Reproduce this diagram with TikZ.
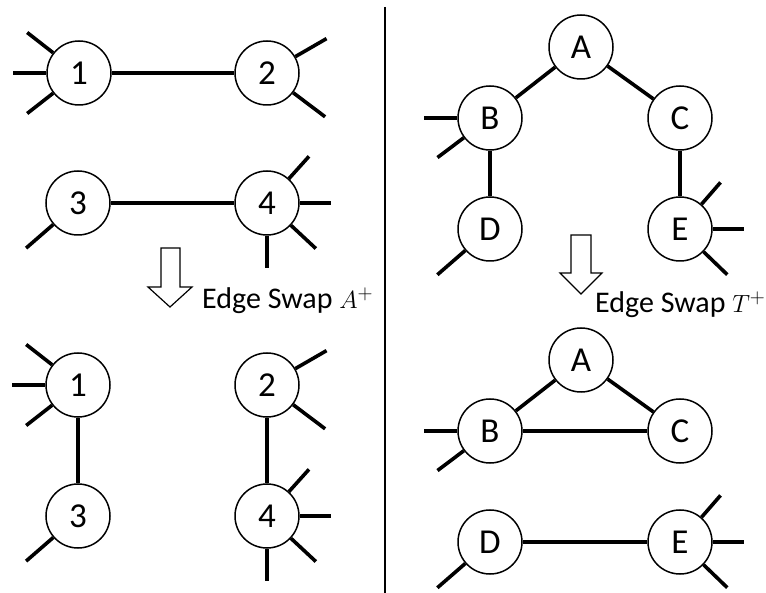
\documentclass[tikz,border=0pt]{standalone}
\usepackage{fontspec}
\setmainfont{Carlito}
\begin{document}
\begin{tikzpicture}[x=1pt,y=-1pt,
  vtx/.style={circle,draw,fill=white,line width=1.5pt,minimum size=64pt,inner sep=0pt,
              font=\fontsize{35}{35}\selectfont},
  link/.style={line width=3.6pt},
  bigarrow/.style={draw,fill=white,line width=1.2pt,line join=miter},
  caption/.style={anchor=base west,inner sep=0pt,font=\fontsize{30}{30}\selectfont}]
\useasboundingbox (0,0) rectangle (766,593);

% stub edge leaving a vertex: angle, length
\newcommand{\stub}[3]{\draw[link] (#1.#2) -- ++(#2:#3pt);}

% ---------- left panel, before ----------
\node[vtx] (p1) at (79,73) {1};
\node[vtx] (p2) at (267,73) {2};
\node[vtx] (p3) at (78,203) {3};
\node[vtx] (p4) at (267,203) {4};
\draw[link] (p1) -- (p2);
\draw[link] (p3) -- (p4);
\stub{p1}{142}{33}\stub{p1}{180}{33}\stub{p1}{218}{33}
\stub{p2}{30}{36}\stub{p2}{-37}{40}
\stub{p3}{221}{36}
\stub{p4}{48}{30}\stub{p4}{0}{31}\stub{p4}{-43}{34}\stub{p4}{-90}{32}

% swap arrow and label
\draw[bigarrow] (161,248) -- (180,248) -- (180,287) -- (192,287) -- (170,307)
  -- (148,287) -- (161,287) -- cycle;
\node[caption] (capA) at (202,309) {Edge Swap $A^{+}$};

% ---------- left panel, after ----------
\node[vtx] (q1) at (78,385) {1};
\node[vtx] (q3) at (78,516) {3};
\node[vtx] (q2) at (267,385) {2};
\node[vtx] (q4) at (267,516) {4};
\draw[link] (q1) -- (q3);
\draw[link] (q2) -- (q4);
\stub{q1}{142}{33}\stub{q1}{180}{33}\stub{q1}{218}{33}
\stub{q2}{30}{36}\stub{q2}{-37}{40}
\stub{q3}{221}{36}
\stub{q4}{48}{30}\stub{q4}{0}{31}\stub{q4}{-43}{34}\stub{q4}{-90}{32}

% divider
\draw[line width=2.6pt] (385,7) -- (385,593);

% ---------- right panel, before ----------
\node[vtx] (a) at (581,47) {A};
\node[vtx] (b) at (490,118) {B};
\node[vtx] (c) at (680,118) {C};
\node[vtx] (d) at (490,229) {D};
\node[vtx] (e) at (680,229) {E};
\draw[link] (a) -- (b);
\draw[link] (a) -- (c);
\draw[link] (b) -- (d);
\draw[link] (c) -- (e);
\stub{b}{180}{33}\stub{b}{217}{33}
\stub{d}{221}{37}
\stub{e}{49}{29}\stub{e}{0}{31}\stub{e}{-44}{33}

\draw[bigarrow] (571,235) -- (591,235) -- (591,273) -- (602,273) -- (581,294)
  -- (560,273) -- (571,273) -- cycle;
\node[caption] (capT) at (595,313) {Edge Swap $T^{+}$};

% ---------- right panel, after ----------
\node[vtx] (a2) at (581,360) {A};
\node[vtx] (b2) at (490,431) {B};
\node[vtx] (c2) at (680,431) {C};
\node[vtx] (d2) at (490,542) {D};
\node[vtx] (e2) at (680,542) {E};
\draw[link] (a2) -- (b2);
\draw[link] (a2) -- (c2);
\draw[link] (b2) -- (c2);
\draw[link] (d2) -- (e2);
\stub{b2}{180}{33}\stub{b2}{217}{33}
\stub{d2}{221}{37}
\stub{e2}{49}{29}\stub{e2}{0}{31}\stub{e2}{-44}{33}
\end{tikzpicture}
\end{document}
